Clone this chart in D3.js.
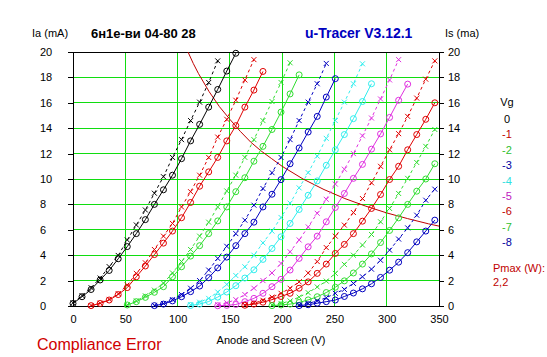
<!DOCTYPE html>
<html><head><meta charset="utf-8">
<script src="https://cdn.jsdelivr.net/npm/d3@7"></script>
<style>
body{margin:0;background:#fff}
svg{display:block}
text{font-family:"Liberation Sans",Arial,sans-serif}
</style>
</head><body>
<svg id="c" width="547" height="357"></svg>
<script>
// ---- data ----
const sweepV = [0, 8.65, 17.3, 25.95, 34.6, 43.25, 51.9, 60.55, 69.2, 77.85, 86.5, 95.15, 103.8, 112.45, 121.1, 129.75, 138.4, 147.05, 155.7, 164.35, 173, 181.65, 190.3, 198.95, 207.6, 216.25, 224.9, 233.55, 242.2, 250.85, 259.5, 268.15, 276.8, 285.45, 294.1, 302.75, 311.4, 320.05, 328.7, 337.35, 346];
const gridVoltages = ["0", "-1", "-2", "-3", "-4", "-5", "-6", "-7", "-8"];
const firstStep = [0, 2, 6, 9, 13, 16, 19, 22, 25];

const ia_vg0 = [0.2, 0.73, 1.3, 2.05, 2.8, 3.72, 4.68, 5.7, 6.8, 8.0, 9.15, 10.3, 11.6, 13.0, 14.3, 15.66, 17.05, 18.5, 19.9];
const is_vg0 = [0.25, 0.82, 1.44, 2.2, 3.1, 3.98, 5.2, 6.38, 7.56, 8.88, 10.18, 11.7, 13.1, 14.6, 16.05, 17.6, 19.3];
const ia_vg1 = [0.03, 0.2, 0.47, 0.9, 1.45, 2.3, 3.15, 4.05, 4.95, 5.9, 6.95, 8.15, 9.43, 10.56, 11.7, 13.0, 14.2, 15.66, 17.0, 18.47];
const is_vg1 = [0.04, 0.22, 0.52, 0.97, 1.65, 2.57, 3.4, 4.45, 5.5, 6.5, 7.8, 9.0, 10.3, 11.7, 13.3, 14.7, 16.2, 17.8, 19.4];
const ia_vg2 = [0.08, 0.34, 0.68, 1.08, 1.52, 2.3, 3.09, 3.93, 4.75, 5.7, 6.7, 7.8, 9.0, 10.1, 11.4, 12.57, 13.9, 15.27, 16.7, 18.2];
const is_vg2 = [0.1, 0.4, 0.8, 1.25, 1.8, 2.6, 3.5, 4.45, 5.5, 6.6, 7.8, 9.06, 10.3, 11.7, 13.1, 14.6, 16.1, 17.6, 19.15];
const ia_vg3 = [0.03, 0.15, 0.4, 0.73, 1.13, 1.57, 2.23, 3.0, 3.85, 4.75, 5.7, 6.6, 7.8, 8.8, 9.95, 11.2, 12.44, 13.7, 14.93, 16.45, 17.9];
const is_vg3 = [0.05, 0.2, 0.5, 0.9, 1.4, 2.0, 2.83, 3.75, 4.7, 5.7, 6.76, 7.94, 9.25, 10.5, 11.7, 13.1, 14.6, 16.05, 17.5, 19.1];
const ia_vg4 = [0.04, 0.15, 0.35, 0.7, 1.1, 1.6, 2.2, 2.85, 3.67, 4.53, 5.45, 6.5, 7.6, 8.72, 9.85, 11.08, 12.3, 13.5, 14.75, 16.1, 17.5];
const is_vg4 = [0.1, 0.3, 0.6, 1.1, 1.7, 2.4, 3.09, 4.0, 4.97, 5.9, 6.97, 8.1, 9.3, 10.5, 11.8, 13.2, 14.6, 16.05, 17.5, 19.07];
const ia_vg5 = [0.02, 0.05, 0.12, 0.34, 0.6, 1.0, 1.52, 2.1, 2.83, 3.75, 4.66, 5.5, 6.63, 7.76, 8.86, 10.05, 11.15, 12.35, 13.55, 14.85, 16.2, 17.47];
const is_vg5 = [0.1, 0.25, 0.5, 0.9, 1.4, 2.0, 2.6, 3.35, 4.27, 5.2, 6.23, 7.3, 8.4, 9.6, 10.77, 12.0, 13.4, 14.8, 16.3, 17.8, 19.4];
const ia_vg6 = [0.06, 0.15, 0.3, 0.5, 0.75, 1.0, 1.4, 1.9, 2.57, 3.3, 4.14, 4.85, 5.7, 6.68, 7.68, 8.78, 9.96, 11.0, 12.3, 13.5, 14.7, 16.0];
const is_vg6 = [0.08, 0.22, 0.45, 0.7, 1.0, 1.4, 1.9, 2.6, 3.5, 4.6, 5.5, 6.37, 7.36, 8.46, 9.7, 11.0, 12.3, 13.57, 14.93, 16.37, 17.86, 19.3];
const ia_vg7 = [0.03, 0.08, 0.15, 0.28, 0.48, 0.73, 1.06, 1.48, 1.98, 2.6, 3.3, 4.1, 5.0, 5.95, 6.94, 8.0, 9.04, 10.0, 11.2];
const is_vg7 = [0.08, 0.2, 0.4, 0.7, 1.05, 1.5, 1.96, 2.57, 3.28, 4.0, 4.8, 5.63, 6.63, 7.68, 8.86, 10.05, 11.3, 12.57, 13.9];
const ia_vg8 = [0.03, 0.1, 0.22, 0.34, 0.47, 0.75, 1.02, 1.35, 1.75, 2.25, 2.82, 3.45, 4.2, 5.05, 5.9, 6.76];
const is_vg8 = [0.08, 0.2, 0.4, 0.65, 1.0, 1.31, 1.78, 2.3, 2.9, 3.6, 4.4, 5.27, 6.15, 7.15, 8.33, 9.2];

const pmaxV = [110, 115, 120, 130, 140, 150, 160, 170, 180, 190, 200, 220, 240, 260, 280, 300, 320, 340, 350];
const pmaxI = [20, 19.1, 18.3, 16.9, 15.7, 14.7, 13.75, 12.9, 12.2, 11.6, 11.0, 10.0, 9.17, 8.46, 7.86, 7.33, 6.88, 6.47, 6.29];
const pmaxLabel = "2,2";

const xTicks = [0, 50, 100, 150, 200, 250, 300, 350];
const yTicks = [0, 2, 4, 6, 8, 10, 12, 14, 16, 18, 20];

// ---- styles ----
const curveColors = ["#000000", "#e00000", "#30dd30", "#0000c0", "#30eeee", "#e030e0", "#e00000", "#30dd30", "#0000c0"];
const legendColors = ["#000000", "#c00000", "#30c030", "#0000a0", "#30e0e0", "#c020c0", "#c00000", "#30c030", "#0000a0"];
const gridColor = "#10dd10";

const iaSeries = [ia_vg0, ia_vg1, ia_vg2, ia_vg3, ia_vg4, ia_vg5, ia_vg6, ia_vg7, ia_vg8];
const isSeries = [is_vg0, is_vg1, is_vg2, is_vg3, is_vg4, is_vg5, is_vg6, is_vg7, is_vg8];

const svg = d3.select("#c");
const x = d3.scaleLinear().domain([0, 350]).range([73, 439]);
const y = d3.scaleLinear().domain([0, 20]).range([306, 52]);

// grid
const grid = svg.append("g").attr("shape-rendering", "crispEdges");
grid.selectAll("line.v").data(xTicks.slice(1, -1)).enter().append("line")
  .attr("x1", d => x(d)).attr("x2", d => x(d)).attr("y1", y(0)).attr("y2", y(20))
  .attr("stroke", gridColor).attr("stroke-width", 1);
grid.selectAll("line.h").data(yTicks.slice(1, -1)).enter().append("line")
  .attr("y1", d => y(d)).attr("y2", d => y(d)).attr("x1", x(0)).attr("x2", x(350))
  .attr("stroke", gridColor).attr("stroke-width", 1);

// axes
const fontSize = 11;
const yl = svg.append("g").attr("transform", `translate(${x(0)},0)`)
  .call(d3.axisLeft(y).tickValues(yTicks).tickSizeInner(5).tickSizeOuter(0).tickFormat(d3.format("d")));
yl.select(".domain").remove();
yl.selectAll("text").attr("x", 40 - x(0)).attr("text-anchor", "start").attr("font-size", fontSize).attr("font-family", null);
const yr = svg.append("g").attr("transform", `translate(${x(350)},0)`)
  .call(d3.axisRight(y).tickValues(yTicks).tickSizeInner(5).tickSizeOuter(0).tickFormat(d3.format("d")));
yr.select(".domain").remove();
yr.selectAll("text").attr("x", 9).attr("font-size", fontSize).attr("font-family", null);
const xb = svg.append("g").attr("transform", `translate(0,${y(0)})`)
  .call(d3.axisBottom(x).tickValues(xTicks).tickSizeInner(0).tickSizeOuter(0).tickPadding(9).tickFormat(d3.format("d")));
xb.select(".domain").remove();
xb.selectAll("text").attr("font-size", fontSize).attr("font-family", null);
svg.selectAll(".tick line").attr("stroke", "#000").attr("shape-rendering", "crispEdges");

// frame
svg.append("rect").attr("x", x(0)).attr("y", y(20)).attr("width", x(350) - x(0)).attr("height", y(0) - y(20))
  .attr("fill", "none").attr("stroke", "#000").attr("stroke-width", 1).attr("shape-rendering", "crispEdges");

// pmax curve
svg.append("path")
  .datum(pmaxV.map((v, i) => [v, pmaxI[i]]))
  .attr("d", d3.line().x(d => x(d[0])).y(d => y(d[1])))
  .attr("fill", "none").attr("stroke", "#c00000").attr("stroke-width", 1);

// curves
const line = d3.line().x(d => x(d[0])).y(d => y(d[1]));
const curves = svg.append("g");
gridVoltages.forEach((g, gi) => {
  const col = curveColors[gi];
  const s = firstStep[gi];
  const isPts = isSeries[gi].map((v, i) => [sweepV[s + i], v]);
  const iaPts = iaSeries[gi].map((v, i) => [sweepV[s + i], v]);
  curves.append("path").datum(isPts).attr("d", line).attr("fill", "none")
    .attr("stroke", col).attr("stroke-width", 1).attr("stroke-dasharray", "3,3");
  curves.append("path").datum(iaPts).attr("d", line).attr("fill", "none")
    .attr("stroke", col).attr("stroke-width", 1);
  const xm = curves.append("g").attr("stroke", col).attr("stroke-width", 1);
  isPts.forEach(p => {
    const cx = x(p[0]), cy = y(p[1]);
    xm.append("path").attr("d", `M${cx - 2.5},${cy - 2.5}L${cx + 2.5},${cy + 2.5}M${cx - 2.5},${cy + 2.5}L${cx + 2.5},${cy - 2.5}`);
  });
  curves.append("g").selectAll("circle").data(iaPts).enter().append("circle")
    .attr("cx", d => x(d[0])).attr("cy", d => y(d[1])).attr("r", 3)
    .attr("fill", "none").attr("stroke", col).attr("stroke-width", 1);
});

// texts
svg.append("text").attr("x", 32).attr("y", 37).attr("font-size", 11).text("Ia (mA)");
svg.append("text").attr("x", 91).attr("y", 38).attr("font-size", 13).attr("font-weight", "bold").text("6н1е-ви 04-80 28");
svg.append("text").attr("x", 305).attr("y", 38).attr("font-size", 14).attr("font-weight", "bold").attr("fill", "#0000c0").text("u-Tracer V3.12.1");
svg.append("text").attr("x", 445).attr("y", 37).attr("font-size", 11).text("Is (ma)");
svg.append("text").attr("x", 271).attr("y", 344).attr("font-size", 11).attr("text-anchor", "middle").text("Anode and Screen (V)");
svg.append("text").attr("x", 37).attr("y", 350).attr("font-size", 16).attr("fill", "#d00000").text("Compliance Error");

// legend
svg.append("text").attr("x", 507).attr("y", 106).attr("font-size", 11).attr("text-anchor", "middle").text("Vg");
svg.append("g").selectAll("text").data(gridVoltages).enter().append("text")
  .attr("x", 507).attr("y", (d, i) => 123 + i * 15.4).attr("font-size", 11).attr("text-anchor", "middle")
  .attr("fill", (d, i) => legendColors[i]).text(d => d);
svg.append("text").attr("x", 493).attr("y", 272).attr("font-size", 11).attr("fill", "#c00000").text("Pmax (W):");
svg.append("text").attr("x", 493).attr("y", 286).attr("font-size", 11).attr("fill", "#c00000").text(pmaxLabel);
</script>
</body></html>
